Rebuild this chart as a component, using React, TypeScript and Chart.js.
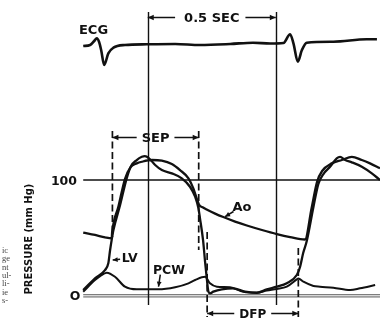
import { useEffect, useRef } from "react";
import { Chart, registerables } from "chart.js";

Chart.register(...registerables);

// Time in ms (0 = first timing mark), pressure in mmHg, ECG in mV
const lvTime = [-252, -206, -167, -154, -147, -141, -134, -108, -82, -65, -43, -23, -11, 5, 29, 55, 94, 133, 165, 185, 198, 204, 216, 224, 230, 237, 243, 256, 289, 334, 380, 426, 465, 504, 543, 582, 595, 607, 621, 647, 666, 686, 712, 738, 751, 771, 797, 836, 875, 907];
const lvPressure = [4.9, 15.0, 22.2, 28.0, 39.5, 48.1, 56.8, 78.4, 101.7, 112.1, 117.3, 120.1, 120.7, 118.8, 113.0, 108.6, 105.8, 101.5, 94.2, 85.6, 75.5, 66.9, 48.1, 29.1, 16.4, 3.5, 2.1, 3.5, 5.5, 6.4, 3.5, 2.6, 5.5, 7.8, 10.7, 17.9, 25.1, 36.9, 47.3, 76.7, 96.5, 105.2, 111.5, 118.8, 120.1, 117.3, 115.3, 111.5, 105.8, 100];

const aoTime = [-252, -206, -167, -141, -139, -114, -89, -67, -43, -23, 16, 55, 94, 126, 159, 178, 191, 200, 216, 230, 263, 295, 341, 387, 446, 504, 556, 614, 640, 661, 681, 719, 758, 797, 836, 868, 895, 907];
const aoPressure = [54.5, 52.5, 50.5, 49.6, 55.1, 77.5, 100.9, 111.2, 114.4, 115.8, 117.3, 116.7, 113.8, 108.6, 101.5, 92.8, 84.2, 78.8, 76.2, 74.5, 71.0, 68.0, 64.1, 60.7, 56.8, 53.3, 50.7, 48.6, 75.8, 98.3, 107.8, 114.4, 117.3, 120.1, 117.3, 114.4, 111.5, 110.1];

const pcwTime = [-252, -206, -186, -160, -128, -89, -43, 41, 107, 159, 185, 224, 243, 270, 321, 373, 426, 465, 504, 543, 582, 588, 608, 647, 673, 725, 790, 829, 888];
const pcwPressure = [3.5, 13.6, 17.0, 19.9, 16.4, 7.8, 5.5, 5.5, 7.3, 10.7, 13.6, 16.4, 10.7, 7.8, 7.3, 3.5, 2.6, 4.5, 5.8, 7.8, 14.2, 15.0, 12.1, 8.4, 7.8, 6.9, 4.9, 6.4, 9.2];

const ecgTime = [-252, -225, -209, -199, -190, -182, -170, -154, -134, -89, -4, 107, 204, 322, 411, 478, 530, 556, 569, 586, 602, 621, 725, 855, 895];
const ecgMv = [-0.2, -0.1, 0.3, 0.57, 0.2, -0.6, -2.1, -0.93, -0.37, -0.1, -0.03, 0, -0.1, 0, 0.13, 0.05, 0.1, 0.97, 0.07, -1.77, -0.6, 0.13, 0.23, 0.47, 0.47];

const pressureTicks = [100, 0];
const pressureTickLabels = ["100", "O"];
const timeMarks = [0, 500];
const timeMarkLabel = "0.5 SEC";
const sepTimes = [-138, 199];
const dfpTimes = [232, 588];
const traceStart = -252;
const marginText = ["ic", "ge", "nt", "ul-", "li-", "ie", "s-"];

const toXY = (xs: number[], ys: number[]) => xs.map((x, i) => ({ x, y: ys[i] }));

const FONT = '"DejaVu Sans", sans-serif';
const INK = "#111";

function arrowHead(ctx: CanvasRenderingContext2D, x: number, y: number, angle: number, len = 6, half = 2.8) {
  ctx.save();
  ctx.translate(x, y);
  ctx.rotate(angle);
  ctx.beginPath();
  ctx.moveTo(0, 0);
  ctx.lineTo(-len, -half);
  ctx.lineTo(-len, half);
  ctx.closePath();
  ctx.fill();
  ctx.restore();
}

function dimension(ctx: CanvasRenderingContext2D, x1: number, x2: number, yy: number, text: string, size: number, gapL: number, gapR: number) {
  ctx.font = `bold ${size}px ${FONT}`;
  const w = ctx.measureText(text).width;
  const cx = (x1 + x2) / 2;
  ctx.lineWidth = 1.6;
  ctx.setLineDash([]);
  ctx.beginPath();
  ctx.moveTo(x1, yy);
  ctx.lineTo(cx - w / 2 - gapL, yy);
  ctx.moveTo(cx + w / 2 + gapR, yy);
  ctx.lineTo(x2, yy);
  ctx.stroke();
  arrowHead(ctx, x1, yy, Math.PI);
  arrowHead(ctx, x2, yy, 0);
  ctx.textAlign = "center";
  ctx.textBaseline = "alphabetic";
  ctx.fillText(text, cx, yy + size * 0.365);
}

function label(ctx: CanvasRenderingContext2D, text: string, cx: number, cy: number, size: number, align: CanvasTextAlign = "center") {
  ctx.font = `bold ${size}px ${FONT}`;
  ctx.textAlign = align;
  ctx.textBaseline = "alphabetic";
  ctx.fillText(text, cx, cy + size * 0.365);
}

function lineArrow(ctx: CanvasRenderingContext2D, x1: number, y1: number, x2: number, y2: number) {
  ctx.lineWidth = 1.5;
  ctx.setLineDash([]);
  ctx.beginPath();
  ctx.moveTo(x1, y1);
  ctx.lineTo(x2, y2);
  ctx.stroke();
  arrowHead(ctx, x2, y2, Math.atan2(y2 - y1, x2 - x1), 5, 2.4);
}

const overlay = {
  id: "overlay",
  beforeDatasetsDraw(chart: any) {
    const { ctx, scales } = chart;
    const x = scales.x;
    const y = scales.y;
    const right = chart.width;
    ctx.save();
    ctx.strokeStyle = INK;
    ctx.fillStyle = INK;
    // 100 mmHg line
    ctx.lineWidth = 1.5;
    ctx.beginPath();
    const y100 = y.getPixelForValue(pressureTicks[0]);
    ctx.moveTo(x.getPixelForValue(traceStart), y100);
    ctx.lineTo(right, y100);
    ctx.stroke();
    // zero line (double)
    const y0 = y.getPixelForValue(pressureTicks[1]);
    ctx.strokeStyle = "#555";
    ctx.lineWidth = 1;
    ctx.beginPath();
    ctx.moveTo(x.getPixelForValue(traceStart), y0 - 1);
    ctx.lineTo(right, y0 - 1);
    ctx.moveTo(x.getPixelForValue(traceStart), y0 + 1.2);
    ctx.lineTo(right, y0 + 1.2);
    ctx.stroke();
    ctx.strokeStyle = INK;
    // timing marks
    ctx.lineWidth = 1.4;
    for (const t of timeMarks) {
      const px = Math.round(x.getPixelForValue(t)) + 0.5;
      ctx.beginPath();
      ctx.moveTo(px, 12);
      ctx.lineTo(px, 305);
      ctx.stroke();
    }
    // dashed lines
    ctx.lineWidth = 1.7;
    ctx.setLineDash([7, 3.5]);
    const dashed = [
      [sepTimes[0], 131, 237],
      [sepTimes[1], 131, 250],
      [dfpTimes[0], 232, 317],
      [dfpTimes[1], 248, 317],
    ];
    for (const [t, a, b] of dashed) {
      const px = x.getPixelForValue(t);
      ctx.beginPath();
      ctx.moveTo(px, a);
      ctx.lineTo(px, b);
      ctx.stroke();
    }
    ctx.restore();
  },
  afterDatasetsDraw(chart: any) {
    const { ctx, scales } = chart;
    const x = scales.x;
    const y = scales.y;
    ctx.save();
    ctx.strokeStyle = INK;
    ctx.fillStyle = INK;
    // dimension arrows
    dimension(ctx, x.getPixelForValue(timeMarks[0]), x.getPixelForValue(timeMarks[1]), 17.5, timeMarkLabel, 13, 9, 6);
    dimension(ctx, x.getPixelForValue(sepTimes[0]), x.getPixelForValue(sepTimes[1]), 137.5, "SEP", 13, 5, 5);
    dimension(ctx, x.getPixelForValue(dfpTimes[0]), x.getPixelForValue(dfpTimes[1]), 313.5, "DFP", 12, 5, 5);
    // trace labels
    label(ctx, "ECG", 93.5, 29, 13);
    label(ctx, pressureTickLabels[0], 77, y.getPixelForValue(pressureTicks[0]) + 0.5, 12.5, "right");
    label(ctx, pressureTickLabels[1], 75, y.getPixelForValue(pressureTicks[1]), 12.5);
    label(ctx, "Ao", x.getPixelForValue(368), y.getPixelForValue(77.5), 13);
    lineArrow(ctx, x.getPixelForValue(335), y.getPixelForValue(72.8), x.getPixelForValue(302), y.getPixelForValue(68.3));
    label(ctx, "LV", x.getPixelForValue(-70), y.getPixelForValue(32.8), 12.5);
    lineArrow(ctx, x.getPixelForValue(-108), y.getPixelForValue(31.5), x.getPixelForValue(-137), y.getPixelForValue(30.9));
    label(ctx, "PCW", x.getPixelForValue(83), y.getPixelForValue(22.8), 12.5);
    lineArrow(ctx, x.getPixelForValue(49), y.getPixelForValue(18.2), x.getPixelForValue(42), y.getPixelForValue(7.8));
    // axis title
    ctx.save();
    ctx.translate(28.3, y.getPixelForValue(49));
    ctx.rotate(-Math.PI / 2);
    ctx.font = `bold 10px ${FONT}`;
    ctx.textAlign = "center";
    ctx.textBaseline = "alphabetic";
    ctx.fillText("PRESSURE (mm Hg)", 0, 3.6);
    ctx.restore();
    // bleed-through margin text
    ctx.fillStyle = "#444";
    ctx.font = `8.5px "Liberation Serif", serif`;
    ctx.textAlign = "left";
    marginText.forEach((s, i) => {
      ctx.fillText(s, 2, 253 + i * 8.3);
    });
    ctx.restore();
  },
};

export default function App() {
  const ref = useRef<HTMLCanvasElement>(null);
  useEffect(() => {
    const base = {
      borderColor: INK,
      borderWidth: 2.3,
      pointRadius: 0,
      fill: false,
      cubicInterpolationMode: "monotone" as const,
    };
    const chart = new Chart(ref.current!, {
      type: "line",
      data: {
        datasets: [
          { ...base, label: "ECG", data: toXY(ecgTime, ecgMv), yAxisID: "ecg", borderWidth: 2.6 },
          { ...base, label: "Ao", data: toXY(aoTime, aoPressure), yAxisID: "y" },
          { ...base, label: "LV", data: toXY(lvTime, lvPressure), yAxisID: "y" },
          { ...base, label: "PCW", data: toXY(pcwTime, pcwPressure), yAxisID: "y", borderWidth: 2 },
        ],
      },
      options: {
        responsive: false,
        maintainAspectRatio: false,
        animation: false,
        devicePixelRatio: 1,
        events: [],
        layout: { padding: 0 },
        plugins: { legend: { display: false }, tooltip: { enabled: false } },
        scales: {
          x: { type: "linear", min: -577, max: 907, display: false },
          y: { type: "linear", min: -22.7, max: 255.6, display: false },
          ecg: { type: "linear", min: -27.8, max: 4.4, display: false },
        },
      },
      plugins: [overlay],
    });
    return () => chart.destroy();
  }, []);
  return (
    <div style={{ position: "fixed", left: 0, top: 0, width: 380, height: 322, background: "#fff" }}>
      <canvas ref={ref} width={380} height={322} style={{ display: "block", width: 380, height: 322 }} />
    </div>
  );
}
